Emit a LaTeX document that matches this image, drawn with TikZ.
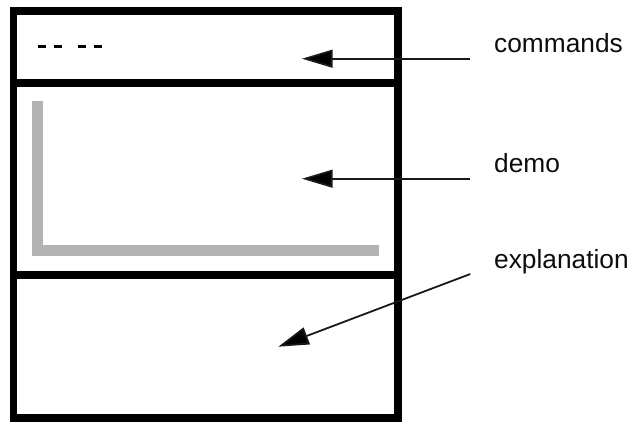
\documentclass[tikz,border=0pt]{standalone}
\usepackage{fontspec}
\setmainfont{Liberation Sans}
\usetikzlibrary{arrows.meta}
\tikzset{
  panel/.style={line width=7.5pt,draw=black,line join=miter},
  axis/.style={line width=10.7pt,draw=axisgray,line cap=butt,line join=miter},
  pointer/.style={line width=1.8pt,draw=black!90,-{Triangle[length=30.5pt,width=17.8pt,fill=black]}},
  label/.style={anchor=base west,inner sep=0pt,font=\fontsize{26.3pt}{30pt}\selectfont,text=black!95},
  dashmark/.style={line width=3pt,draw=black}
}
\definecolor{axisgray}{HTML}{B3B3B3}
\begin{document}
\begin{tikzpicture}[x=1pt,y=-1pt]
\useasboundingbox (0,0) rectangle (631,421);
\fill[white] (0,0) rectangle (631,421);
% gray axes
\draw[axis] (37.5,101) -- (37.5,250.7) -- (379,250.7);
% panels
\draw[panel] (13.7,10.8) rectangle (397.8,83);
\draw[panel] (13.7,83) rectangle (397.8,274.8);
\draw[panel] (13.7,274.8) rectangle (397.8,417.8);
% dashes
\draw[dashmark] (38.3,46) -- (46,46);
\draw[dashmark] (54.3,46) -- (62,46);
\draw[dashmark] (78.3,46) -- (86,46);
\draw[dashmark] (94.3,46) -- (102,46);
% labels
\node[label] (commands) at (494,52.3) {commands};
\node[label] (demo) at (494,172.3) {demo};
\node[label] (explanation) at (494,268.3) {explanation};
% pointer ends
\coordinate (commandsFrom) at (470.3,58.7);
\coordinate (commandsTo) at (302,58.7);
\coordinate (demoFrom) at (470.3,178.7);
\coordinate (demoTo) at (302,178.7);
\coordinate (explFrom) at (470.3,274);
\coordinate (explTo) at (278.3,346.7);
\draw[pointer] (commandsFrom) -- (commandsTo);
\draw[pointer] (demoFrom) -- (demoTo);
\draw[pointer] (explFrom) -- (explTo);
\end{tikzpicture}
\end{document}
